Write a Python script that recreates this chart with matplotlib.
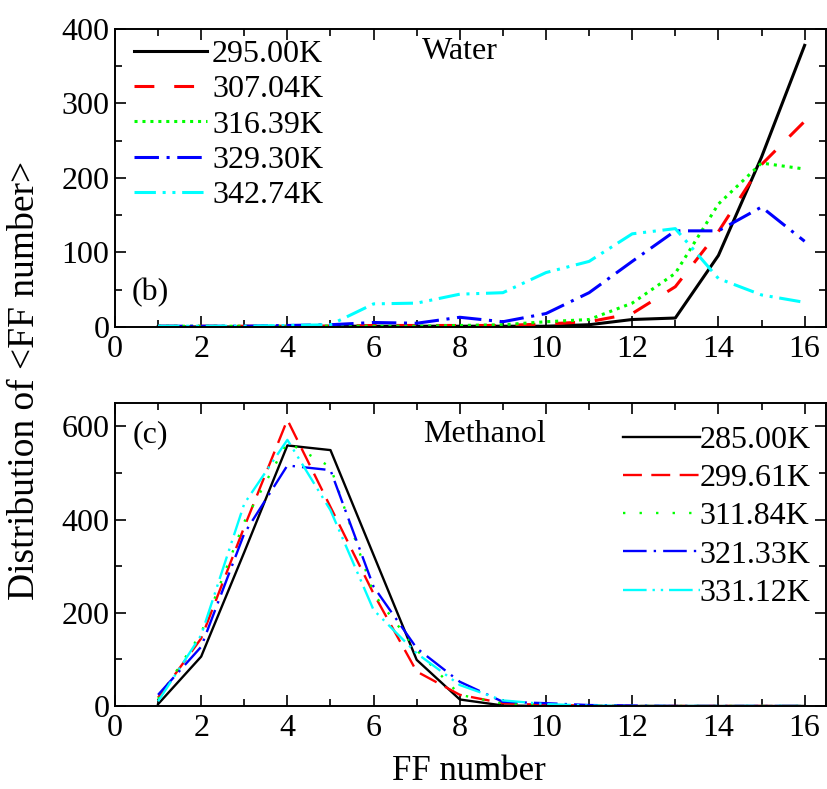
import numpy as np
import matplotlib.pyplot as plt
from matplotlib.ticker import MultipleLocator

plt.rcParams['font.family'] = ['Liberation Serif', 'DejaVu Serif']

# FF number on the x axis
ff = np.arange(1, 17)

# Water, panel (b)
water_labels = ['295.00K', '307.04K', '316.39K', '329.30K', '342.74K']
water_295 = [0, 0, 0, 0, 1, 1, 1, 1, 1, 1, 3, 10, 12, 96, 228, 378]
water_307 = [1, 1, 1, 1, 1, 2, 2, 2, 2, 4, 7, 18, 54, 128, 218, 276]
water_316 = [1, 1, 1, 1, 1, 1, 1, 2, 3, 7, 10, 32, 72, 165, 220, 212]
water_329 = [1, 1, 1, 2, 3, 6, 5, 13, 7, 18, 46, 88, 129, 129, 161, 115]
water_342 = [1, 1, 1, 2, 3, 31, 32, 44, 46, 73, 88, 125, 132, 65, 43, 33]

# Methanol, panel (c)
meth_labels = ['285.00K', '299.61K', '311.84K', '321.33K', '331.12K']
meth_285 = [4, 106, 330, 559, 549, 324, 99, 14, 1, 0, 0, 0, 0, 0, 0, 0]
meth_299 = [18, 145, 384, 614, 427, 241, 74, 24, 6, 2, 1, 0, 0, 0, 0, 0]
meth_311 = [15, 156, 395, 566, 513, 241, 120, 24, 5, 2, 1, 0, 0, 0, 0, 0]
meth_321 = [24, 127, 370, 516, 506, 256, 124, 52, 9, 6, 2, 1, 0, 0, 0, 0]
meth_331 = [10, 152, 434, 571, 420, 206, 113, 45, 12, 4, 1, 0, 0, 0, 0, 0]

colors = ['black', 'red', '#00ff00', 'blue', 'cyan']
top_styles = ['-', (0, (6.5, 6.5)), (0, (1, 1.6)), (0, (8, 2.5, 1, 2.5)),
              (0, (7, 2.2, 1, 2.2, 1, 2.2))]
bot_styles = ['-', (0, (8, 4)), (0, (1, 6)), (0, (10, 3, 1, 3)),
              (0, (10, 2.5, 1, 2.5, 1, 2.5))]

FS = 23

fig = plt.figure(figsize=(8.27, 7.89), dpi=100)
ax1 = fig.add_axes([0.139, 0.5856, 0.86, 0.3777])
ax2 = fig.add_axes([0.139, 0.1052, 0.86, 0.384])


def style_axes(ax, ymax, ymajor, yminor):
    ax.set_xlim(0, 16.5)
    ax.set_ylim(0, ymax)
    ax.xaxis.set_major_locator(MultipleLocator(2))
    ax.xaxis.set_minor_locator(MultipleLocator(1))
    ax.yaxis.set_major_locator(MultipleLocator(ymajor))
    ax.yaxis.set_minor_locator(MultipleLocator(yminor))
    ax.tick_params(which='both', direction='in', top=True, right=True,
                   labelsize=FS, width=1.2)
    ax.tick_params(axis='y', pad=4)
    ax.tick_params(axis='x', pad=6)
    ax.tick_params(which='major', length=8)
    ax.tick_params(which='minor', length=5)
    for s in ax.spines.values():
        s.set_linewidth(1.4)


water = [water_295, water_307, water_316, water_329, water_342]
for y, lab, c, ls in zip(water, water_labels, colors, top_styles):
    ax1.plot(ff, y, color=c, linestyle=ls, lw=2.2, label=lab)
style_axes(ax1, 400, 100, 50)
ax1.legend(loc='upper left', bbox_to_anchor=(-0.005, 1.04), frameon=False,
           fontsize=FS, handlelength=2.3, handletextpad=0.15,
           labelspacing=0.19, borderaxespad=0.3)
ax1.text(0.485, 0.925, 'Water', transform=ax1.transAxes, fontsize=FS,
         ha='center', va='center')
ax1.text(0.05, 0.115, '(b)', transform=ax1.transAxes, fontsize=FS,
         ha='center', va='center')

meth = [meth_285, meth_299, meth_311, meth_321, meth_331]
for y, lab, c, ls in zip(meth, meth_labels, colors, bot_styles):
    ax2.plot(ff, y, color=c, linestyle=ls, lw=1.7, label=lab)
style_axes(ax2, 650, 200, 100)
ax2.legend(loc='upper right', bbox_to_anchor=(1.01, 1.0), frameon=False,
           fontsize=FS, handlelength=2.4, handletextpad=0.0,
           labelspacing=0.28, borderaxespad=0.3)
ax2.text(0.52, 0.895, 'Methanol', transform=ax2.transAxes, fontsize=FS,
         ha='center', va='center')
ax2.text(0.05, 0.895, '(c)', transform=ax2.transAxes, fontsize=FS,
         ha='center', va='center')

fig.text(0.567, 0.012, 'FF number', fontsize=25, ha='center', va='baseline')
fig.text(0.03, 0.518, 'Distribution of <FF number>', rotation=90,
         fontsize=27, ha='center', va='center')

fig.savefig('out.png', dpi=100)
